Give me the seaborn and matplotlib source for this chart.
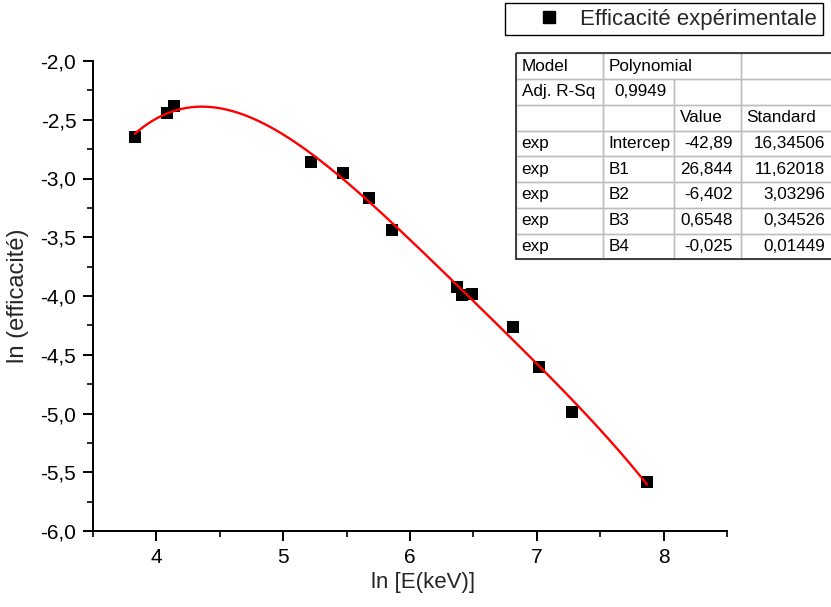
import numpy as np
import pandas as pd
import matplotlib
matplotlib.use("Agg")
import matplotlib.pyplot as plt
from matplotlib.table import Table
from matplotlib.patches import Rectangle
from matplotlib.lines import Line2D
import seaborn as sns

# ---- data ----
ln_energy = [3.83, 4.08, 4.14, 5.22, 5.47, 5.68, 5.86, 6.37, 6.41, 6.49, 6.81, 7.02, 7.28, 7.87]
ln_eff = [-2.65, -2.44, -2.38, -2.86, -2.95, -3.17, -3.44, -3.92, -3.99, -3.98, -4.26, -4.60, -4.99, -5.58]

x_ticks = [4, 5, 6, 7, 8]
x_tick_labels = ["4", "5", "6", "7", "8"]
y_ticks = [-6.0, -5.5, -5.0, -4.5, -4.0, -3.5, -3.0, -2.5, -2.0]
y_tick_labels = ["-6,0", "-5,5", "-5,0", "-4,5", "-4,0", "-3,5", "-3,0", "-2,5", "-2,0"]

legend_label = "Efficacité expérimentale"
x_label = "ln [E(keV)]"
y_label = "ln (efficacité)"

table_rows = [
    ["Model", "Polynomial", "", ""],
    ["Adj. R-Sq", "0,9949", "", ""],
    ["", "", "Value", "Standard"],
    ["exp", "Intercep", "-42,89", "16,34506"],
    ["exp", "B1", "26,844", "11,62018"],
    ["exp", "B2", "-6,402", "3,03296"],
    ["exp", "B3", "0,6548", "0,34526"],
    ["exp", "B4", "-0,025", "0,01449"],
]

df = pd.DataFrame({"lnE": ln_energy, "lneff": ln_eff})

# ---- style ----
sns.set_style("ticks")
plt.rcParams["font.family"] = ["Liberation Sans", "DejaVu Sans"]

W, H = 831, 607
fig = plt.figure(figsize=(W / 100, H / 100), dpi=100)
ax = fig.add_axes([93 / W, 1 - 531 / H, (727 - 93) / W, (531 - 61) / H])

sns.regplot(data=df, x="lnE", y="lneff", order=4, ci=None, scatter=False,
            line_kws=dict(color="#ff0000", lw=1.7, zorder=3), ax=ax)
sns.scatterplot(data=df, x="lnE", y="lneff", marker="s", s=85, color="black",
                edgecolor="black", linewidth=0, zorder=2, ax=ax, legend=False)

ax.set_xlim(3.5, 8.5)
ax.set_ylim(-6.0, -2.0)
ax.set_xticks(x_ticks)
ax.set_xticklabels(x_tick_labels)
ax.set_xticks(np.arange(3.5, 8.51, 0.5), minor=True)
ax.set_yticks(y_ticks)
ax.set_yticklabels(y_tick_labels)
ax.set_yticks(np.arange(-6.0, -1.99, 0.25), minor=True)

for s in ["top", "right"]:
    ax.spines[s].set_visible(False)
for s in ["left", "bottom"]:
    ax.spines[s].set_linewidth(1.4)
    ax.spines[s].set_color("black")
ax.tick_params(which="major", direction="out", length=7, width=1.4, labelsize=15,
               colors="black", pad=5)
ax.tick_params(which="minor", direction="out", length=4, width=1.4)

ax.set_xlabel(x_label, fontsize=16)
ax.set_ylabel(y_label, fontsize=17)
ax.xaxis.set_label_coords((423 - 93) / 634, -0.088)
ax.yaxis.set_label_coords((29 - 93) / 634, 0.5)

# ---- legend ----
handle = Line2D([], [], marker="s", color="black", linestyle="none", markersize=8.5)
leg = fig.legend([handle], [legend_label], loc="upper left",
                 bbox_to_anchor=(505 / W, 1 - 3 / H), bbox_transform=fig.transFigure,
                 fontsize=16, frameon=True, fancybox=False, framealpha=1,
                 edgecolor="black", borderaxespad=0, borderpad=0.25,
                 handletextpad=-0.36, handlelength=3.5)
leg.get_frame().set_linewidth(1.0)

# ---- fit table ----
ov = fig.add_axes([0, 0, 1, 1])
ov.set_axis_off()
ov.set_xlim(0, W)
ov.set_ylim(H, 0)

t_left, t_top, t_bottom = 516, 53.3, 259.3
col_edges = [t_left, 602.7, 674.3, 740.7, 833]
col_w = [col_edges[i + 1] - col_edges[i] for i in range(4)]
total_w = col_edges[-1] - t_left

tab = Table(ov, bbox=[t_left / W, 1 - t_bottom / H, total_w / W, (t_bottom - t_top) / H])
for r, row in enumerate(table_rows):
    for c, txt in enumerate(row):
        loc = "left"
        if (r == 1 and c == 1) or (r >= 3 and c >= 2):
            loc = "right"
        cell = tab.add_cell(r, c, width=col_w[c] / total_w, height=1 / len(table_rows),
                            text=txt, loc=loc, edgecolor="#bdbdbd", facecolor="none")
        cell.set_linewidth(1.0)
        cell.PAD = 5.5 / col_w[c] if loc == "left" else 8 / col_w[c]
        cell.get_text().set_fontsize(12.3)
        cell.get_text().set_color("black")
tab[0, 1].visible_edges = "BTL"
tab[0, 2].visible_edges = "BTR"
tab.auto_set_font_size(False)
ov.add_table(tab)
ov.add_patch(Rectangle((t_left, t_top), total_w, t_bottom - t_top, fill=False,
                       edgecolor="#333333", lw=1.3, zorder=5, clip_on=False))

fig.savefig("out.png", dpi=100)
